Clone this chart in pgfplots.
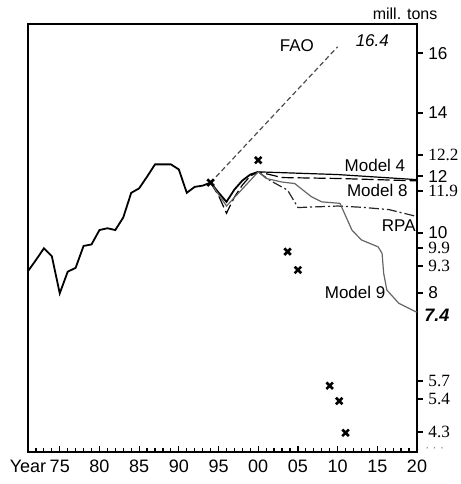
\documentclass[border=0pt]{standalone}
\usepackage{fontspec}
\setmainfont{Liberation Sans}
\newfontfamily\serif{Liberation Serif}
\usepackage{pgfplots}
\pgfplotsset{compat=1.18}
\begin{document}
\begin{tikzpicture}
\begin{axis}[name=ax, scale only axis, width=194.5pt, height=214pt,
  xmin=1971, xmax=2020, ymin=2.7, ymax=16.97,
  xtick={1975,1980,...,2020}, xticklabels={75,80,85,90,95,00,05,10,15,20},
  minor xtick={1971,1972,...,2020},
  extra x ticks={1971}, extra x tick labels={Year}, extra x tick style={major tick length=0pt},
  xtick pos=left, ytick pos=right,
  tick align=inside, ytick align=outside,
  ytick={16,14,12.6,11.9,11.4,10,9.5,8.9,8,5.07,4.47,3.37},
  yticklabels={16,14,{\serif 12.2},12,{\serif 11.9},10,{\serif 9.9},{\serif 9.3},8,{\serif 5.7},{\serif 5.4},{\serif 4.3}},
  tick label style={font=\fontsize{9}{10}\selectfont},
  yticklabel style={inner sep=0pt, xshift=2.5pt, font=\fontsize{8.6}{9}\selectfont},
  xticklabel style={yshift=-3.5pt, inner sep=0.5pt},
  major tick length=3pt, minor tick length=2.2pt,
  axis line style={line width=0.7pt},
  tick style={black, line width=0.6pt},
  minor tick style={black, line width=0.6pt},
  clip=false,
]
% historical
\addplot[black, line width=0.9pt] coordinates {
(1971,8.73)(1972,9.1)(1973,9.49)(1974,9.23)(1975,7.99)(1976,8.71)(1977,8.84)(1978,9.57)(1979,9.62)
(1980,10.1)(1981,10.16)(1982,10.1)(1983,10.52)(1984,11.34)(1985,11.49)(1986,11.88)(1987,12.29)
(1988,12.29)(1989,12.29)(1990,12.12)(1991,11.34)(1992,11.54)(1993,11.58)(1994,11.68)(1995,11.35)
(1996,11.04)(1997,11.45)(1998,11.75)(1999,11.95)(2000,12.04)};
% FAO
\addplot[black!70, line width=0.6pt, dash pattern=on 2.5pt off 1.5pt] coordinates {(1994,11.68)(2010,16.21)};
% Model 4
\addplot[black, line width=0.6pt] coordinates {(2000,12.04)(2010,11.95)(2020,11.78)};
% Model 8
\addplot[black, line width=0.6pt, dash pattern=on 6pt off 2pt] coordinates {
(1994,11.68)(1995,11.25)(1996,10.66)(1997,11.2)(1998,11.6)(1999,11.9)(2000,12.04)(2003,11.85)(2010,11.82)(2020,11.74)};
% RPA
\addplot[black!85, line width=0.6pt, dash pattern=on 5pt off 1.5pt on 1pt off 1.5pt] coordinates {
(2000,12.04)(2001.5,11.75)(2003.7,11.43)(2005,10.85)(2010,10.9)(2013,10.86)(2016.5,10.78)(2020,10.55)};
% Model 9
\addplot[black!60, line width=0.6pt] coordinates {
(1994,11.68)(1996,10.9)(2000,12.04)(2001,11.82)(2003,11.7)(2004.6,11.65)(2006.7,11.21)(2008,11.04)(2010.3,10.99)
(2011.8,10.1)(2013,9.77)(2015.1,9.54)(2015.6,9.32)(2015.8,8.66)(2016.2,8.1)(2017.7,7.66)(2019.8,7.38)(2020,7.37)};
% crosses
\addplot[only marks, mark=x, mark size=2.3pt, mark options={line width=1.3pt, black}] coordinates {
(1994,11.68)(2000,12.43)(2003.7,9.38)(2005,8.77)(2009,4.91)(2010.2,4.4)(2011,3.34)};
% labels
\node[anchor=east, font=\fontsize{8.5}{10}\selectfont] at (axis cs:2007.9,16.25) {FAO};
\node[anchor=west, font=\fontsize{8.5}{10}\selectfont\itshape] at (axis cs:2011.4,16.43) {16.4};
\node[font=\fontsize{8.5}{10}\selectfont] at (axis cs:2014.7,12.27) {Model 4};
\node[font=\fontsize{8.5}{10}\selectfont] at (axis cs:2015,11.43) {Model 8};
\node[font=\fontsize{8.5}{10}\selectfont] at (axis cs:2017.7,10.23) {RPA};
\node[font=\fontsize{8.5}{10}\selectfont] at (axis cs:2012.2,8.03) {Model 9};
\node[font=\fontsize{8}{10}\selectfont] at (axis cs:2018.5,17.32) {mill. tons};
\node[anchor=west, inner sep=0pt, xshift=3.5pt, font=\fontsize{9}{10}\selectfont\bfseries\itshape] at (axis cs:2020,7.27) {7.4};
\node[anchor=west, inner sep=0pt, xshift=4pt, text=black!50, font=\fontsize{6}{7}\selectfont] at (axis cs:2020,2.78) {· · ·};
\end{axis}
\pgfresetboundingbox
\path[use as bounding box] ([xshift=-14pt,yshift=-16pt]ax.south west) rectangle ([xshift=22pt,yshift=12pt]ax.north east);
\end{tikzpicture}
\end{document}
